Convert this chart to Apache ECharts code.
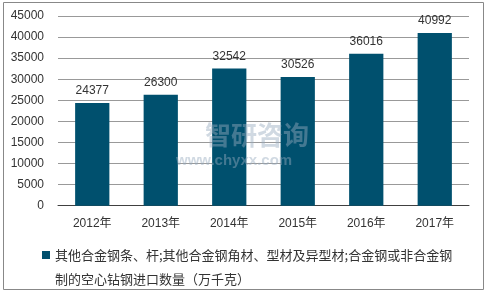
<!DOCTYPE html>
<html><head><meta charset="utf-8">
<script src="https://cdn.jsdelivr.net/npm/echarts@6/dist/echarts.min.js"></script>
<style>html,body{margin:0;padding:0;background:#fff}#c{width:487px;height:293px}</style>
</head><body><div id="c"></div>
<script>
var categories = ['2012年','2013年','2014年','2015年','2016年','2017年'];
var values = [24377, 26300, 32542, 30526, 36016, 40992];
var seriesName = '其他合金钢条、杆;其他合金钢角材、型材及异型材;合金钢或非合金钢\n制的空心钻钢进口数量（万千克）';
var chart = echarts.init(document.getElementById('c'));
chart.setOption({
  animation: false,
  textStyle: {fontFamily: 'Arial, "Liberation Sans", "Noto Sans CJK SC", sans-serif'},
  grid: {left: 58, right: 18, top: 16, bottom: 87.3},
  xAxis: {
    type: 'category', data: categories,
    axisLine: {lineStyle: {color: '#404040', width: 1}},
    axisTick: {show: false},
    axisLabel: {color: '#333', fontSize: 12, margin: 12}
  },
  yAxis: {
    type: 'value', min: 0, max: 45000, interval: 5000,
    axisLine: {show: false}, axisTick: {show: false},
    splitLine: {lineStyle: {color: '#999', width: 1}},
    axisLabel: {color: '#333', fontSize: 12, margin: 14, formatter: function (v) { return String(v); }}
  },
  legend: {
    left: 37, top: 238, itemWidth: 8, itemHeight: 32, itemGap: 5,
    icon: 'path://M0,0L8,0L8,8L0,8Z M0,32L0.001,32L0,32Z',
    textStyle: {color: '#333', fontSize: 13, lineHeight: 24, fontFamily: '"Noto Sans CJK SC", sans-serif',
      rich: {}},
    formatter: function (n) { return n; },
    data: [seriesName]
  },
  graphic: [
    {type: 'rect', shape: {x: 3.5, y: 2.5, width: 480, height: 287}, style: {fill: 'none', stroke: '#888', lineWidth: 1}, silent: true},
    {type: 'text', left: 205, top: 122, style: {text: '智研咨询', fill: 'rgba(150,170,190,0.45)', fontSize: 26, fontWeight: 'bold', fontFamily: '"Noto Sans CJK SC", sans-serif'}, z: 100},
    {type: 'text', left: 176, top: 153, style: {text: 'www.chyxx.com', fill: 'rgba(150,170,190,0.45)', fontSize: 15, fontWeight: 'bold', fontFamily: 'Arial, sans-serif'}, z: 100}
  ],
  series: [{
    name: seriesName, type: 'bar', data: values, barWidth: '50%',
    itemStyle: {color: '#00506e'},
    label: {show: true, position: 'top', distance: 6, color: '#333', fontSize: 12}
  }]
});
</script></body></html>
